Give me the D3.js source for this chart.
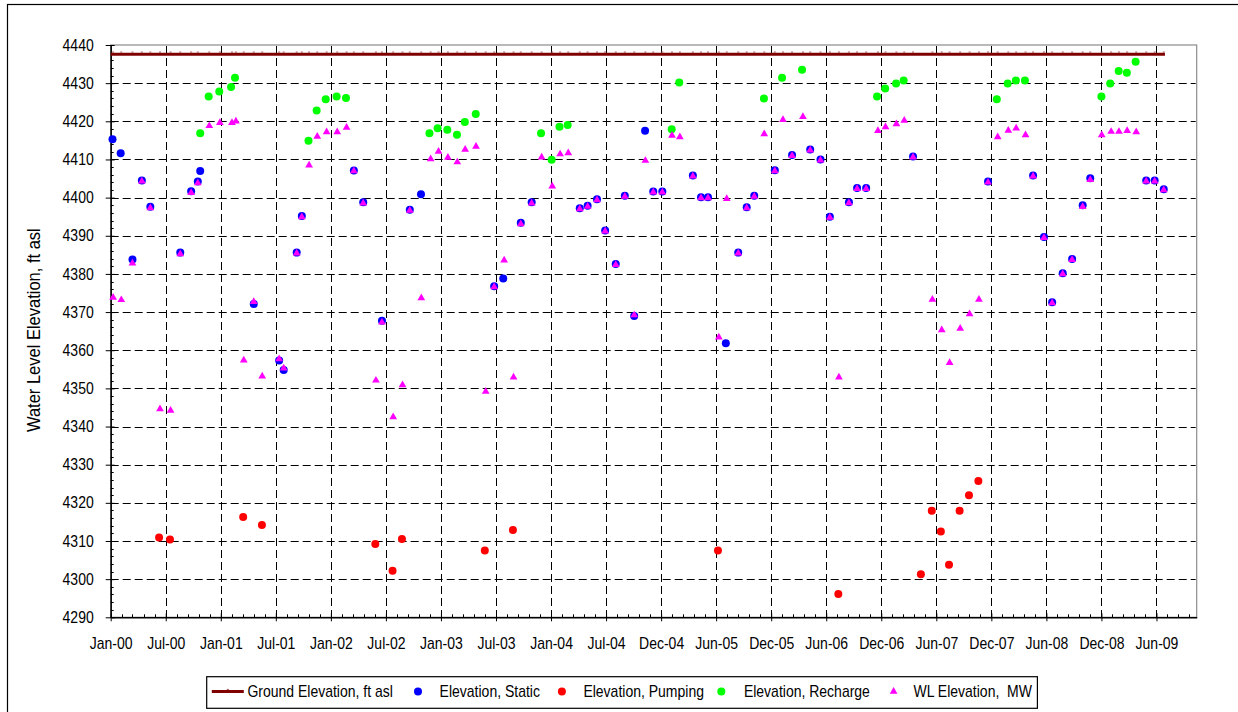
<!DOCTYPE html>
<html>
<head>
<meta charset="utf-8">
<script src="https://cdn.jsdelivr.net/npm/d3@7"></script>
<style>
html, body { margin: 0; padding: 0; background: #fff; }
text { font-family: "Liberation Sans", Arial, sans-serif; fill: #000; }
</style>
</head>
<body>
<div id="chart"></div>
<script>

// ---- data ----
var xTickLabels = ["Jan-00", "Jul-00", "Jan-01", "Jul-01", "Jan-02", "Jul-02", "Jan-03", "Jul-03",
    "Jan-04", "Jul-04", "Dec-04", "Jun-05", "Dec-05", "Jun-06", "Dec-06", "Jun-07",
    "Dec-07", "Jun-08", "Dec-08", "Jun-09"];
var yTickValues = [4290, 4300, 4310, 4320, 4330, 4340, 4350, 4360, 4370, 4380, 4390, 4400, 4410, 4420, 4430, 4440];

var groundElevation = 4437.6;
var groundDates = ["2000-01-06", "2009-07-23"];

var staticDates = ["2000-01-12", "2000-02-08", "2000-03-18", "2000-04-18", "2000-05-16", "2000-08-23", "2000-09-28",
    "2000-10-20", "2000-10-28", "2001-04-23", "2001-07-16", "2001-07-31", "2001-09-12", "2001-09-29",
    "2002-03-20", "2002-04-20", "2002-06-21", "2002-09-21", "2002-10-28", "2003-06-27", "2003-07-27",
    "2003-09-23", "2003-10-29", "2004-04-05", "2004-05-01", "2004-06-01", "2004-06-28", "2004-08-02",
    "2004-09-01", "2004-10-02", "2004-11-07", "2004-12-04", "2005-01-03", "2005-04-14", "2005-05-11",
    "2005-06-03", "2005-08-01", "2005-09-11", "2005-10-09", "2005-11-03", "2006-01-10", "2006-03-08",
    "2006-05-07", "2006-06-10", "2006-07-11", "2006-09-12", "2006-10-09", "2006-11-08", "2007-04-12",
    "2007-12-16", "2008-05-13", "2008-06-18", "2008-07-15", "2008-08-19", "2008-09-19", "2008-10-24",
    "2008-11-18", "2009-05-22", "2009-06-19", "2009-07-19"];
var staticValues = [4415.3, 4411.6, 4383.8, 4404.5, 4397.6, 4385.6, 4401.7,
    4404.2, 4407.0, 4372.1, 4357.3, 4354.8, 4385.6, 4395.2,
    4407.1, 4398.8, 4367.7, 4396.8, 4400.9, 4376.8, 4378.8,
    4393.4, 4398.8, 4397.2, 4397.9, 4399.6, 4391.4, 4382.6,
    4400.5, 4369.0, 4417.5, 4401.6, 4401.6, 4405.8, 4400.1,
    4400.1, 4361.8, 4385.6, 4397.5, 4400.5, 4407.2, 4411.2,
    4412.6, 4410.0, 4395.0, 4398.8, 4402.5, 4402.5, 4410.8,
    4404.2, 4405.8, 4389.7, 4372.6, 4380.2, 4383.9, 4398.0,
    4405.1, 4404.5, 4404.5, 4402.2];

var pumpingDates = ["2000-06-14", "2000-07-20", "2001-03-19", "2001-05-20", "2002-05-30", "2002-07-26",
    "2002-08-26", "2003-05-27", "2003-08-28", "2005-07-06", "2006-08-08", "2007-05-08", "2007-06-13",
    "2007-07-13", "2007-08-09", "2007-09-13", "2007-10-14", "2007-11-14"];
var pumpingValues = [4310.9, 4310.4, 4316.3, 4314.2, 4309.2, 4302.2,
    4310.5, 4307.5, 4312.9, 4307.5, 4296.1, 4301.3, 4317.9,
    4312.5, 4303.8, 4317.9, 4322.0, 4325.7];

var rechargeDates = ["2000-10-28", "2000-11-25", "2000-12-30", "2001-02-07", "2001-02-20", "2001-10-21",
    "2001-11-17", "2001-12-17", "2002-01-22", "2002-02-22", "2002-11-25", "2002-12-22", "2003-01-23",
    "2003-02-24", "2003-03-22", "2003-04-27", "2003-11-29", "2004-01-03", "2004-01-29", "2004-02-25",
    "2005-02-03", "2005-02-28", "2005-12-05", "2006-02-03", "2006-04-10", "2006-12-14", "2007-01-10",
    "2007-02-15", "2007-03-12", "2008-01-14", "2008-02-19", "2008-03-17", "2008-04-16", "2008-12-25",
    "2009-01-23", "2009-02-20", "2009-03-19", "2009-04-17"];
var rechargeValues = [4416.9, 4426.5, 4427.8, 4429.0, 4431.4, 4414.9,
    4422.8, 4425.8, 4426.5, 4426.1, 4416.9, 4418.2, 4417.8,
    4416.5, 4419.8, 4421.9, 4416.9, 4409.9, 4418.6, 4419.0,
    4417.9, 4430.2, 4426.0, 4431.4, 4433.5, 4426.5, 4428.6,
    4429.9, 4430.7, 4425.8, 4429.9, 4430.7, 4430.7, 4426.5,
    4429.9, 4433.2, 4432.7, 4435.6];

var mwDates = ["2000-01-14", "2000-02-10", "2000-03-18", "2000-04-18", "2000-05-16", "2000-06-17", "2000-07-22",
    "2000-08-23", "2000-09-28", "2000-10-20", "2000-11-27", "2001-01-01", "2001-02-10", "2001-02-23",
    "2001-03-21", "2001-04-23", "2001-05-21", "2001-07-16", "2001-07-31", "2001-09-12", "2001-09-29",
    "2001-10-23", "2001-11-19", "2001-12-20", "2002-01-24", "2002-02-24", "2002-03-20", "2002-04-20",
    "2002-06-01", "2002-06-21", "2002-07-28", "2002-08-28", "2002-09-21", "2002-10-29", "2002-11-29",
    "2002-12-25", "2003-01-25", "2003-02-25", "2003-03-23", "2003-04-28", "2003-05-30", "2003-06-27",
    "2003-07-30", "2003-08-30", "2003-09-23", "2003-10-29", "2003-12-01", "2004-01-05", "2004-01-31",
    "2004-02-27", "2004-04-05", "2004-05-01", "2004-06-01", "2004-06-28", "2004-08-02", "2004-09-01",
    "2004-10-02", "2004-11-08", "2004-12-04", "2005-01-03", "2005-02-04", "2005-03-02", "2005-04-14",
    "2005-05-11", "2005-06-03", "2005-07-09", "2005-08-04", "2005-09-11", "2005-10-09", "2005-11-03",
    "2005-12-06", "2006-01-10", "2006-02-06", "2006-03-08", "2006-04-13", "2006-05-07", "2006-06-10",
    "2006-07-11", "2006-08-10", "2006-09-12", "2006-10-09", "2006-11-08", "2006-12-17", "2007-01-11",
    "2007-02-16", "2007-03-14", "2007-04-12", "2007-06-15", "2007-07-16", "2007-08-11", "2007-09-15",
    "2007-10-16", "2007-11-16", "2007-12-16", "2008-01-17", "2008-02-21", "2008-03-18", "2008-04-18",
    "2008-05-13", "2008-06-18", "2008-07-15", "2008-08-19", "2008-09-19", "2008-10-24", "2008-11-18",
    "2008-12-26", "2009-01-26", "2009-02-21", "2009-03-20", "2009-04-19", "2009-05-22", "2009-06-19",
    "2009-07-19"];
var mwValues = [4373.8, 4373.2, 4382.8, 4404.3, 4397.3, 4344.6, 4344.2,
    4385.2, 4401.3, 4403.8, 4418.8, 4419.6, 4419.6, 4420.0,
    4357.4, 4372.7, 4353.2, 4357.7, 4355.3, 4385.4, 4394.9,
    4408.5, 4416.0, 4417.2, 4417.2, 4418.4, 4407.0, 4398.5,
    4352.1, 4367.3, 4342.5, 4350.9, 4396.6, 4373.7, 4410.1,
    4412.1, 4410.5, 4409.3, 4412.6, 4413.4, 4349.2, 4376.6,
    4383.6, 4352.9, 4393.1, 4398.5, 4410.6, 4403.0, 4411.4,
    4411.7, 4397.0, 4397.7, 4399.4, 4391.2, 4382.4, 4400.3,
    4369.2, 4409.7, 4401.4, 4401.4, 4416.3, 4415.9, 4405.6,
    4399.9, 4399.9, 4363.4, 4399.7, 4385.4, 4397.3, 4400.3,
    4416.7, 4407.0, 4420.4, 4411.0, 4421.2, 4412.4, 4409.8,
    4394.8, 4352.9, 4398.6, 4402.3, 4402.3, 4417.5, 4418.5,
    4419.3, 4420.2, 4410.6, 4373.3, 4365.3, 4356.7, 4365.7,
    4369.5, 4373.3, 4404.0, 4415.9, 4417.6, 4418.2, 4416.4,
    4405.6, 4389.5, 4372.4, 4380.0, 4383.7, 4397.6, 4404.7,
    4416.4, 4417.3, 4417.3, 4417.5, 4417.2, 4404.3, 4404.3,
    4402.0];

var legendLabels = ["Ground Elevation, ft asl", "Elevation, Static", "Elevation, Pumping",
    "Elevation, Recharge", "WL Elevation,  MW"];

// ---- chart ----
var width = 1238;
var height = 712;
var plot = {left: 110.7, right: 1196.7, top: 45, bottom: 617.3};
var stretch = "scale(1,1.15)";   // Excel text renders a bit taller than Liberation Sans

var parse = d3.timeParse("%Y-%m-%d");
var axisStart = parse("2000-01-06");
var tickStepDays = 182;

var x = d3.scaleTime()
    .domain([axisStart, d3.timeDay.offset(axisStart, 3591)])
    .range([plot.left, plot.right]);
var y = d3.scaleLinear()
    .domain([4290, 4440])
    .range([plot.bottom, plot.top]);

var xTickDates = xTickLabels.map(function(d, i){ return d3.timeDay.offset(axisStart, i * tickStepDays); });
var xMinor = d3.range(0, xTickLabels.length * 5 + 4).map(function(i){ return d3.timeDay.offset(axisStart, i * tickStepDays / 5); })
    .filter(function(d){ return x(d) < plot.right - 1; });
var yMinor = d3.range(4290, 4441, 2);

function zip(dates, values){
    return dates.map(function(d, i){ return {date: parse(d), value: values[i]}; });
}

var svg = d3.select("#chart").append("svg")
    .attr("width", width)
    .attr("height", height)
    .attr("xmlns", "http://www.w3.org/2000/svg");

// outer chart area border (runs off the right/bottom edge)
svg.append("rect")
    .attr("x", 7.5).attr("y", 4.5)
    .attr("width", 1300).attr("height", 800)
    .style("fill", "#fff")
    .style("stroke", "#000")
    .style("stroke-width", 1.2);

// plot area
svg.append("rect")
    .attr("x", plot.left).attr("y", plot.top)
    .attr("width", plot.right - plot.left).attr("height", plot.bottom - plot.top)
    .style("fill", "#fff")
    .style("stroke", "#8c8c8c")
    .style("stroke-width", 1.2);

// grid
var grid = svg.append("g").attr("class", "grid")
    .style("stroke", "#000")
    .style("stroke-width", 1)
    .style("stroke-dasharray", "8,4");

grid.selectAll("line.h")
    .data(yTickValues.filter(function(v){ return v > 4290 && v < 4440; }))
    .enter().append("line")
    .attr("x1", plot.left).attr("x2", plot.right - 1)
    .attr("y1", function(v){ return Math.round(y(v)) + 0.5; })
    .attr("y2", function(v){ return Math.round(y(v)) + 0.5; });

grid.selectAll("line.v")
    .data(xTickDates.slice(1))
    .enter().append("line")
    .attr("x1", function(d){ return Math.round(x(d)) + 0.5; })
    .attr("x2", function(d){ return Math.round(x(d)) + 0.5; })
    .attr("y1", plot.top + 1).attr("y2", plot.bottom);

// minor ticks
var ticks = svg.append("g").style("stroke", "#000").style("stroke-width", 1);
ticks.selectAll("line.ym")
    .data(yMinor)
    .enter().append("line")
    .attr("x1", plot.left).attr("x2", plot.left + 3)
    .attr("y1", function(v){ return Math.round(y(v)) + 0.5; })
    .attr("y2", function(v){ return Math.round(y(v)) + 0.5; });
ticks.selectAll("line.xm")
    .data(xMinor)
    .enter().append("line")
    .attr("x1", function(d){ return Math.round(x(d)) + 0.5; })
    .attr("x2", function(d){ return Math.round(x(d)) + 0.5; })
    .attr("y1", plot.bottom - 3).attr("y2", plot.bottom);

// axes
var yAxis = d3.axisLeft(y)
    .tickValues(yTickValues)
    .tickSizeInner(5)
    .tickSizeOuter(0)
    .tickPadding(12)
    .tickFormat(d3.format("d"));
var yG = svg.append("g")
    .attr("transform", "translate(" + plot.left + ",0)")
    .call(yAxis);
yG.selectAll("line").attr("x2", -5).attr("x1", 4);
yG.select(".domain").style("stroke-width", 1.5);
yG.selectAll("text")
    .attr("transform", stretch)
    .style("font-size", "14px")
    .style("font-family", "'Liberation Sans', Arial, sans-serif");

var xAxis = d3.axisBottom(x)
    .tickValues(xTickDates)
    .tickSizeInner(5)
    .tickSizeOuter(0)
    .tickPadding(12.5)
    .tickFormat(function(d, i){ return xTickLabels[i]; });
var xG = svg.append("g")
    .attr("transform", "translate(0," + plot.bottom + ")")
    .call(xAxis);
xG.selectAll("line").attr("y1", -4).attr("y2", 4);
xG.select(".domain").style("stroke-width", 1.5);
xG.selectAll("text")
    .attr("transform", stretch)
    .style("font-size", "14px")
    .style("font-family", "'Liberation Sans', Arial, sans-serif");

// y axis title
svg.append("text")
    .attr("transform", "translate(39.5," + ((plot.top + plot.bottom) / 2 - 1) + ") rotate(-90) scale(1,1.08)")
    .attr("text-anchor", "middle")
    .style("font-size", "16.5px")
    .text("Water Level Elevation, ft asl");

// ground elevation line
var groundData = zip(groundDates, groundDates.map(function(){ return groundElevation; }));
var line = d3.line()
    .x(function(d){ return x(d.date); })
    .y(function(d){ return y(d.value); });
svg.append("path")
    .datum(groundData)
    .attr("d", line)
    .style("fill", "none")
    .style("stroke", "#800000")
    .style("stroke-width", 3);
svg.append("g").selectAll("rect")
    .data(zip(mwDates, mwValues))
    .enter().append("rect")
    .attr("x", function(d){ return x(d.date) - 1; })
    .attr("y", y(groundElevation) - 2.6)
    .attr("width", 2).attr("height", 1)
    .style("fill", "#a05050");

// point series (Excel draw order)
function dots(data, color, r){
    svg.append("g").selectAll("circle")
        .data(data)
        .enter().append("circle")
        .attr("cx", function(d){ return x(d.date); })
        .attr("cy", function(d){ return y(d.value); })
        .attr("r", r)
        .style("fill", color);
}
dots(zip(staticDates, staticValues), "#0000ff", 4);
dots(zip(pumpingDates, pumpingValues), "#ff0000", 4);
dots(zip(rechargeDates, rechargeValues), "#00ff00", 4);

var tri = d3.symbol().type(d3.symbolTriangle).size(26);
svg.append("g").selectAll("path")
    .data(zip(mwDates, mwValues))
    .enter().append("path")
    .attr("d", tri)
    .attr("transform", function(d){ return "translate(" + x(d.date) + "," + y(d.value) + ")"; })
    .style("fill", "#ff00ff");

// legend
var legendX = [211.8, 418, 561.9, 721.3, 893.6];
var legendTextX = [247.4, 439.6, 583.4, 743.9, 913.5];
var legend = svg.append("g");
legend.append("rect")
    .attr("x", 206.7).attr("y", 676.7)
    .attr("width", 830.7).attr("height", 31.6)
    .style("fill", "#fff")
    .style("stroke", "#000")
    .style("stroke-width", 1.2);
var ly = 691.5;
legend.append("line")
    .attr("x1", legendX[0]).attr("x2", legendX[0] + 32)
    .attr("y1", ly).attr("y2", ly)
    .style("stroke", "#800000").style("stroke-width", 3);
legend.append("rect")
    .attr("x", legendX[0] + 15).attr("y", ly - 2.6).attr("width", 2).attr("height", 1)
    .style("fill", "#a05050");
legend.append("circle").attr("cx", legendX[1]).attr("cy", ly).attr("r", 4).style("fill", "#0000ff");
legend.append("circle").attr("cx", legendX[2]).attr("cy", ly).attr("r", 4).style("fill", "#ff0000");
legend.append("circle").attr("cx", legendX[3]).attr("cy", ly).attr("r", 4).style("fill", "#00ff00");
legend.append("path").attr("d", tri)
    .attr("transform", "translate(" + legendX[4] + "," + ly + ")")
    .style("fill", "#ff00ff");
legend.selectAll("text.lbl")
    .data(legendLabels)
    .enter().append("text")
    .attr("transform", function(d, i){ return "translate(" + legendTextX[i] + ",696.5) " + stretch; })
    .style("font-size", "14px")
    .style("white-space", "pre")
    .text(function(d){ return d; });

</script>
</body>
</html>
